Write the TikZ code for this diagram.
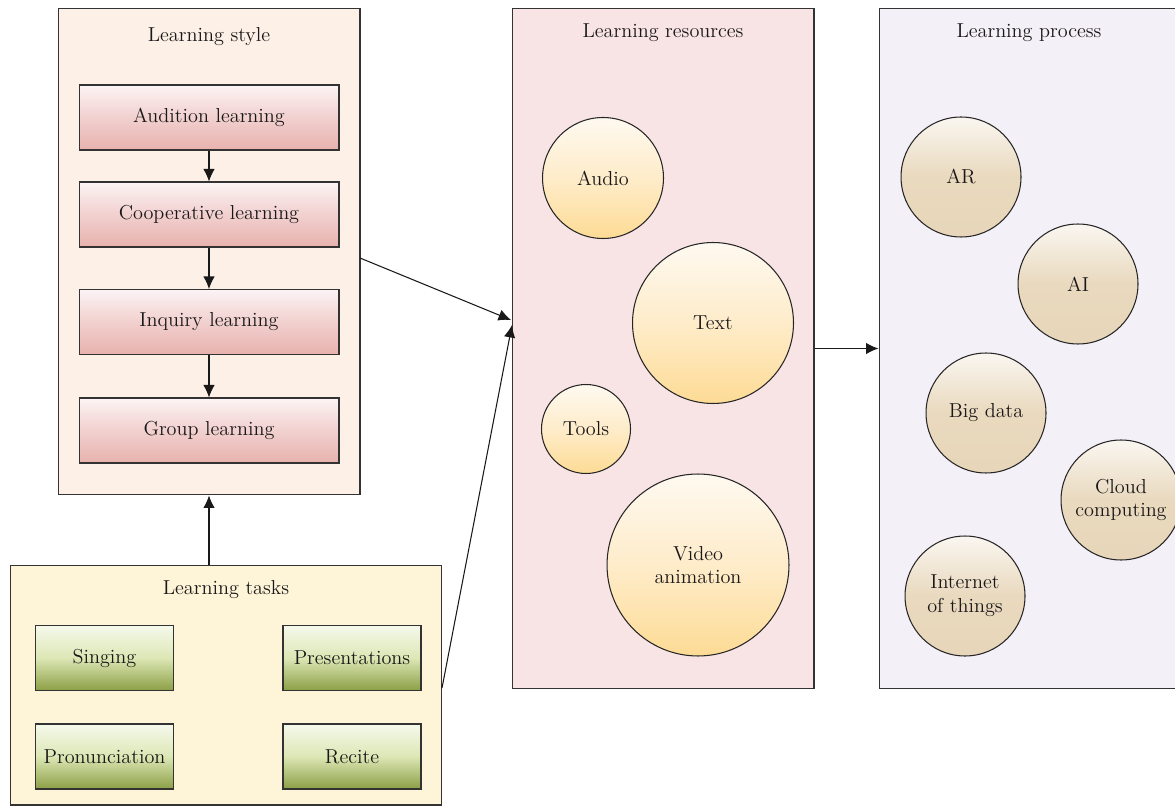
\documentclass[tikz,border=0pt]{standalone}
\usetikzlibrary{arrows.meta}

\definecolor{stylebg}{HTML}{FDF0E6}
\definecolor{taskbg}{HTML}{FEF4D8}
\definecolor{resbg}{HTML}{F8E4E4}
\definecolor{procbg}{HTML}{F4F0F7}
\definecolor{inktext}{HTML}{1A1718}

\begin{document}
\begin{tikzpicture}[x=0.02cm, y=-0.02cm,
        every node/.style={font=\fontsize{11.5}{13.5}\selectfont, text=inktext},
        panel/.style={draw=black!80, line width=0.6pt, inner sep=0pt},
        stylestep/.style={draw=black!80, line width=0.6pt, minimum width=5.2cm, minimum height=1.3cm,
            top color={rgb,255:red,252;green,244;blue,245}, bottom color={rgb,255:red,232;green,178;blue,174},
            middle color={rgb,255:red,241;green,208;blue,206}},
        taskitem/.style={draw=black!80, line width=0.6pt, minimum width=2.76cm, minimum height=1.3cm,
            top color={rgb,255:red,245;green,249;blue,236}, bottom color={rgb,255:red,140;green,159;blue,69},
            middle color={rgb,255:red,220;green,231;blue,181}},
        resball/.style={circle, draw=black!85, line width=0.6pt, inner sep=0pt, align=center,
            top color={rgb,255:red,254;green,249;blue,240}, bottom color={rgb,255:red,253;green,219;blue,149},
            middle color={rgb,255:red,254;green,236;blue,202}},
        procball/.style={circle, draw=black!85, line width=0.6pt, inner sep=0pt, minimum size=2.4cm, align=center,
            top color={rgb,255:red,250;green,246;blue,240}, bottom color={rgb,255:red,231;green,214;blue,185},
            middle color={rgb,255:red,233;green,217;blue,190}},
        myarrow/.style={-{Latex[length=2.5mm, width=2.3mm]}, line width=0.6pt, draw=black!90}
    ]
    \useasboundingbox (0,0) rectangle (1175,810);

    % panels
    \node [panel, fill=stylebg, minimum width=6.04cm, minimum height=9.74cm] (style) at (209,251.5) {};
    \node [panel, fill=taskbg, minimum width=8.64cm, minimum height=4.8cm] (tasks) at (226,685) {};
    \node [panel, fill=resbg, minimum width=6.04cm, minimum height=13.62cm] (res) at (663,348.5) {};
    \node [panel, fill=procbg, minimum width=6.02cm, minimum height=13.62cm] (proc) at (1029.5,348.5) {};

    \node (styletitle) at (209,37) {Learning style};
    \node (taskstitle) at (226,590) {Learning tasks};
    \node (restitle) at (663,33) {Learning resources};
    \node (proctitle) at (1029,33) {Learning process};

    % learning style
    \node [stylestep] (aud) at (209,117.5) {Audition learning};
    \node [stylestep] (coop) at (209,214.5) {Cooperative learning};
    \node [stylestep] (inq) at (209,322) {Inquiry learning};
    \node [stylestep] (grp) at (209,430.5) {Group learning};
    \draw [myarrow] (aud) -- (coop);
    \draw [myarrow] (coop) -- (inq);
    \draw [myarrow] (inq) -- (grp);

    % learning tasks
    \node [taskitem] (sing) at (104.5,658) {Singing};
    \node [taskitem] (pres) at (352,658) {Presentations};
    \node [taskitem] (pron) at (104.5,756.5) {Pronunciation};
    \node [taskitem] (rec) at (352,756.5) {Recite};

    % learning resources
    \node [resball, minimum size=2.42cm] (audio) at (603,178) {Audio};
    \node [resball, minimum size=3.22cm] (text) at (713,323) {Text};
    \node [resball, minimum size=1.78cm] (tools) at (586,429) {Tools};
    \node [resball, minimum size=3.64cm] (video) at (698,565) {Video\\animation};

    % learning process
    \node [procball] (ar) at (961,177) {AR};
    \node [procball] (ai) at (1078,284) {AI};
    \node [procball] (bigdata) at (986,413) {Big data};
    \node [procball] (cloud) at (1121,500) {Cloud\\computing};
    \node [procball] (iot) at (965,596) {Internet\\of things};

    % connectors
    \coordinate (styleout) at (360,258);
    \coordinate (tasksout) at (442,688);
    \coordinate (resin1) at (511,320);
    \coordinate (resin2) at (512,325);
    \draw [myarrow] (tasks.north -| style.south) -- (style.south);
    \draw [myarrow] (styleout) -- (resin1);
    \draw [myarrow] (tasksout) -- (resin2);
    \draw [myarrow] (res.east) -- (proc.west);
\end{tikzpicture}
\end{document}
